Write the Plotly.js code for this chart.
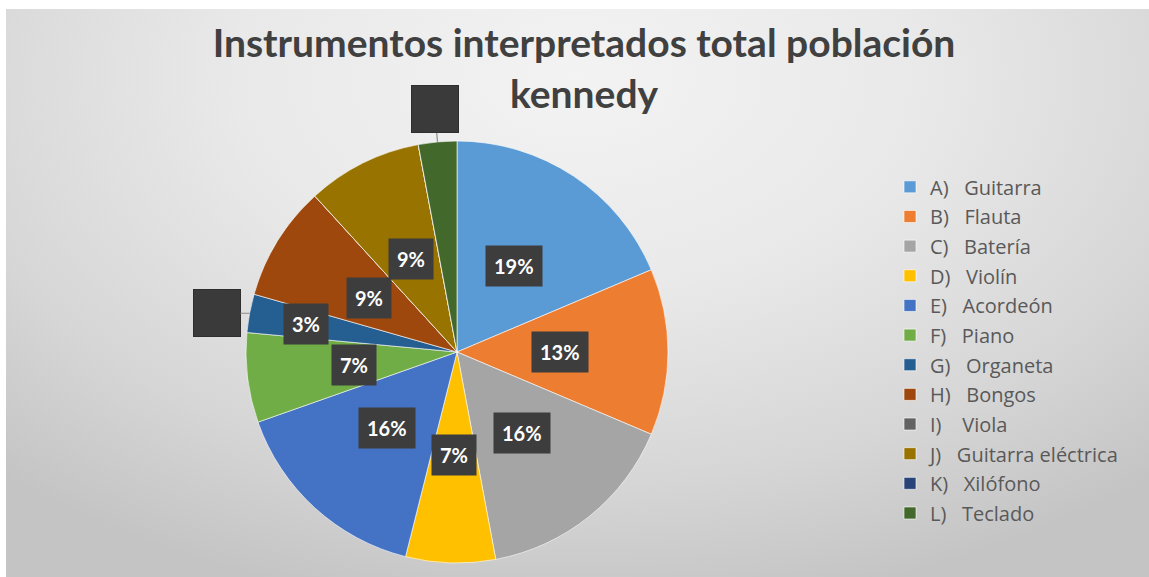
<!DOCTYPE html>
<html>
<head>
<meta charset="utf-8">
<script src="https://cdn.plot.ly/plotly-3.0.1.min.js"></script>
<style>
  html, body { margin: 0; padding: 0; background: #fff; }
  #chart {
    width: 1149px; height: 577px;
    background:
      radial-gradient(ellipse 75% 95% at 50% 12%, #f3f3f3 0%, #e9e9e9 40%, #d6d6d6 75%, #c4c4c4 100%) no-repeat 6px 9px / 1143px 568px,
      #ffffff;
  }
</style>
</head>
<body>
<div id="chart"></div>
<script>
// ---- data ----
const categories = [
  "A)\u00a0\u00a0 Guitarra", "B)\u00a0\u00a0 Flauta", "C)\u00a0\u00a0 Batería", "D)\u00a0\u00a0 Violín",
  "E)\u00a0\u00a0 Acordeón", "F)\u00a0\u00a0 Piano", "G)\u00a0\u00a0 Organeta", "H)\u00a0\u00a0 Bongos",
  "I)\u00a0\u00a0\u00a0 Viola", "J)\u00a0\u00a0 Guitarra eléctrica", "K)\u00a0\u00a0 Xilófono", "L)\u00a0\u00a0 Teclado"
];
const values = [19, 13, 16, 7, 16, 7, 3, 9, 0, 9, 0, 3];
const colors = ["#5B9BD5", "#ED7D31", "#A5A5A5", "#FFC000", "#4472C4", "#70AD47",
                "#255E91", "#9E480E", "#636363", "#997300", "#264478", "#43682B"];
// slices whose label is shown as an outside dark box (hidden text)
const outsideBoxSlices = [6, 11];

// ---- geometry ----
const W = 1149, H = 577;
const dom = { x: [246 / W, 668 / W], y: [14 / H, 436 / H] };
const cx = (dom.x[0] + dom.x[1]) / 2 * W;
const cyTop = H - (dom.y[0] + dom.y[1]) / 2 * H;
const R = Math.min((dom.x[1] - dom.x[0]) * W, (dom.y[1] - dom.y[0]) * H) / 2;

const total = values.reduce((a, b) => a + b, 0);
const annotations = [];
let cum = 0;
values.forEach((v, i) => {
  const start = cum / total * 2 * Math.PI;
  cum += v;
  const end = cum / total * 2 * Math.PI;
  if (v === 0) return;
  const mid = (start + end) / 2;
  const pt = (r) => ({ x: (cx + r * R * Math.sin(mid)) / W, y: (H - (cyTop - r * R * Math.cos(mid))) / H });
  if (i !== 11) {
    const rf = (i === 6) ? 0.73 : 0.49;
    const p = pt(rf);
    annotations.push({
      x: p.x, y: p.y, xref: 'paper', yref: 'paper', showarrow: false,
      xanchor: 'center', yanchor: 'middle',
      text: Math.round(v / total * 100) + '%',
      font: { family: 'Lato, "Open Sans", sans-serif', size: 20, color: '#ffffff', weight: 700 },
      bgcolor: '#3d3d3d', borderpad: 8
    });
  }
  if (outsideBoxSlices.includes(i)) {
    const tip = pt(1.0);
    const off = 0.155 * R;
    const side = Math.abs(Math.sin(mid)) > 0.7;
    annotations.push({
      x: tip.x, y: tip.y, xref: 'paper', yref: 'paper', showarrow: true,
      ax: side ? Math.sign(Math.sin(mid)) * off : off * Math.sin(mid),
      ay: side ? 0 : -off * Math.cos(mid),
      arrowhead: 0, arrowwidth: 1.2, arrowcolor: '#8c8c8c', standoff: 0, startstandoff: 0,
      text: ' ', width: 44, height: 44, bgcolor: '#3a3a3a', borderpad: 1,
      bordercolor: '#2e2e2e', borderwidth: 1
    });
  }
});

const trace = {
  type: 'pie',
  labels: categories.map(c => '<span style="font-size:20px">' + c + '</span>'),
  values: values,
  sort: false,
  direction: 'clockwise',
  rotation: 0,
  textinfo: 'none',
  hoverinfo: 'label+percent',
  marker: { colors: colors, line: { color: 'rgba(255,255,255,0.6)', width: 1 } },
  domain: dom
};

const layout = {
  width: W, height: H,
  margin: { l: 0, r: 0, t: 0, b: 0 },
  paper_bgcolor: 'rgba(0,0,0,0)',
  plot_bgcolor: 'rgba(0,0,0,0)',
  title: {
    text: 'Instrumentos interpretados total población<br>kennedy',
    font: { family: 'Lato, "Open Sans", sans-serif', size: 39, color: '#404040', weight: 700 },
    x: 584 / W, xanchor: 'center',
    y: 1 - 57 / H, yanchor: 'top'
  },
  showlegend: true,
  legend: {
    x: 890 / W, xanchor: 'left', y: 1 - 167 / H, yanchor: 'top',
    font: { family: '"Open Sans", Lato, sans-serif', size: 20.5, color: '#595959' },
    bgcolor: 'rgba(0,0,0,0)', traceorder: 'normal', itemclick: false
  },
  annotations: annotations
};

Plotly.newPlot('chart', [trace], layout, { displayModeBar: false, staticPlot: true });
</script>
</body>
</html>
